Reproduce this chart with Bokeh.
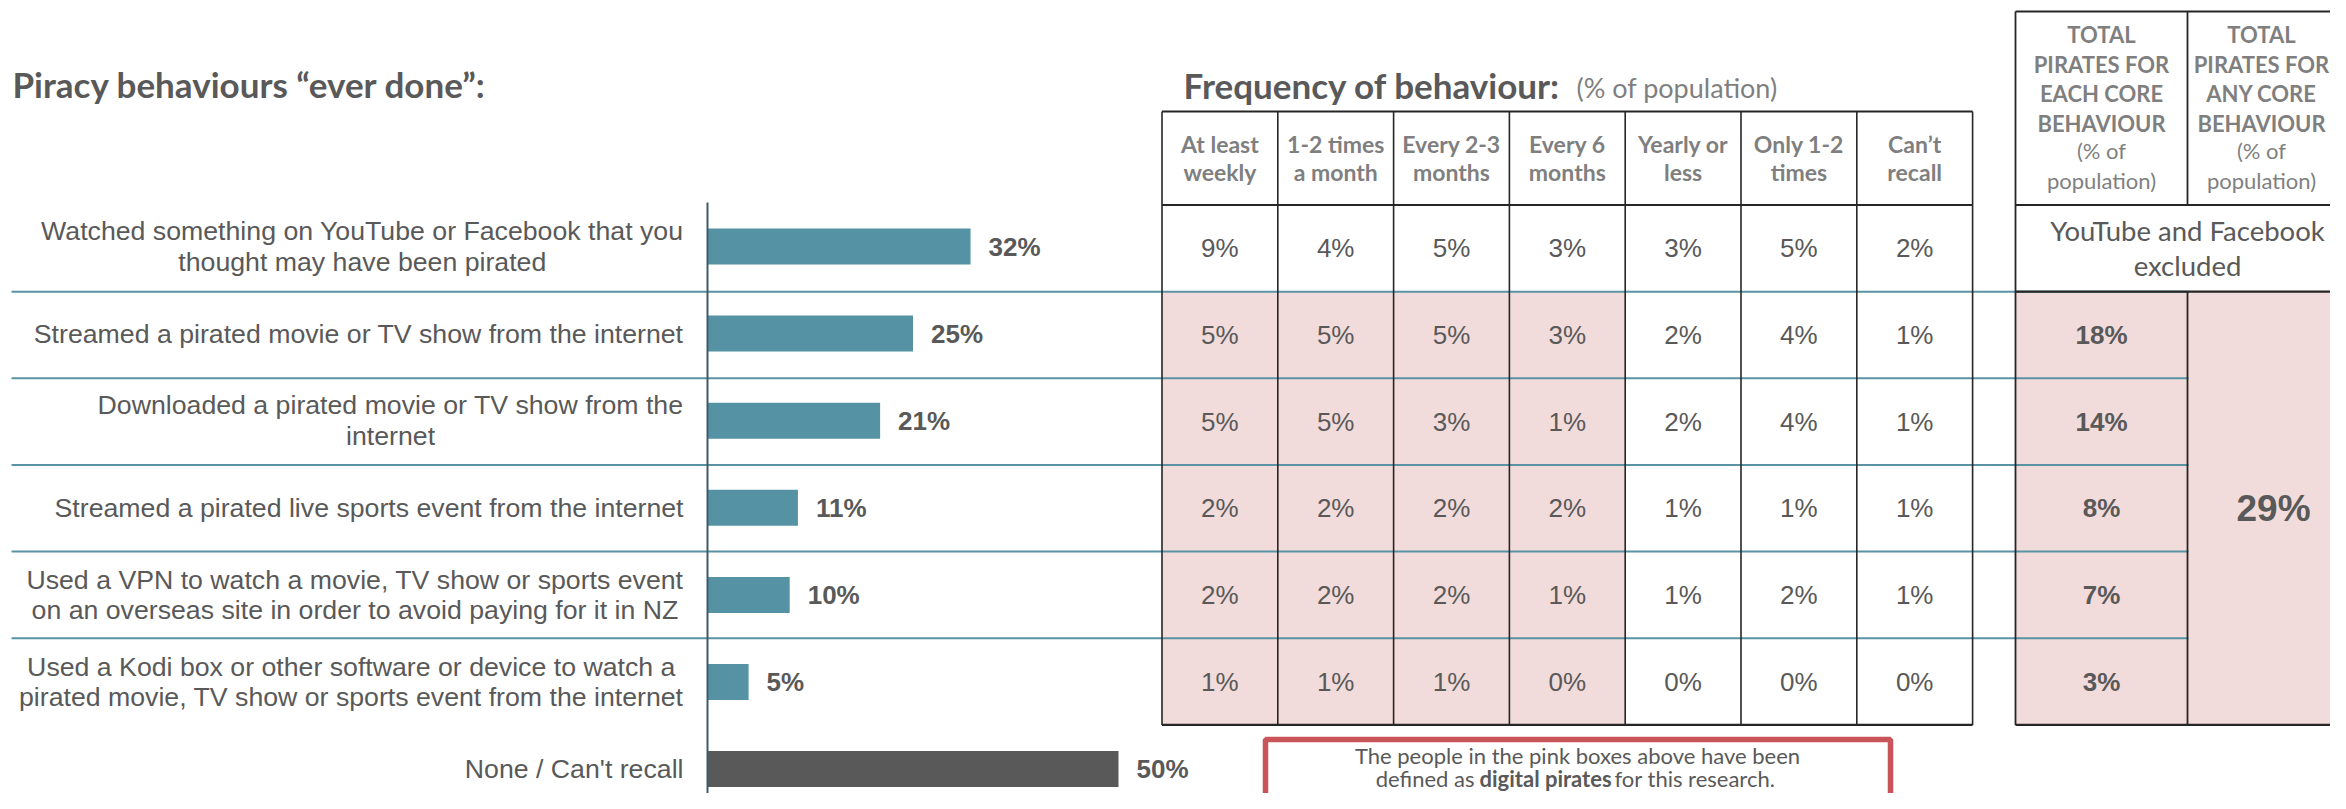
from bokeh.plotting import figure
from bokeh.models import Range1d
from bokeh.core.properties import value
from bokeh.embed import file_html
from bokeh.resources import INLINE

# ---------------- data ----------------
behaviours = [
    "Watched something on YouTube or Facebook that you\nthought may have been pirated",
    "Streamed a pirated movie or TV show from the internet",
    "Downloaded a pirated movie or TV show from the\ninternet",
    "Streamed a pirated live sports event from the internet",
    "Used a VPN to watch a movie, TV show or sports event\non an overseas site in order to avoid paying for it in NZ",
    "Used a Kodi box or other software or device to watch a\npirated movie, TV show or sports event from the internet",
    "None / Can't recall",
]
ever_done = [32, 25, 21, 11, 10, 5, 50]

freq_headers = ["At least\nweekly", "1-2 times\na month", "Every 2-3\nmonths", "Every 6\nmonths",
                "Yearly or\nless", "Only 1-2\ntimes", "Can\u2019t\nrecall"]
freq_weekly = [9, 5, 5, 2, 2, 1]
freq_monthly = [4, 5, 5, 2, 2, 1]
freq_2_3_months = [5, 5, 3, 2, 2, 1]
freq_6_months = [3, 3, 1, 2, 1, 0]
freq_yearly = [3, 2, 2, 1, 1, 0]
freq_once_twice = [5, 4, 4, 1, 2, 0]
freq_cant_recall = [2, 1, 1, 1, 1, 0]
freq_columns = [freq_weekly, freq_monthly, freq_2_3_months, freq_6_months,
                freq_yearly, freq_once_twice, freq_cant_recall]
pirate_freq_cols = 4          # first four frequency columns = digital pirates
total_each = [None, 18, 14, 8, 7, 3]
total_any = 29
total_headers = ["TOTAL\nPIRATES FOR\nEACH CORE\nBEHAVIOUR", "TOTAL\nPIRATES FOR\nANY CORE\nBEHAVIOUR"]
excluded_note = "YouTube and Facebook\nexcluded"

# ---------------- layout / style ----------------
W, H = 2330, 793
AXIS_X = 707
PX_PER_PCT = 8.22
LABEL_RIGHT = 683
BAR_Y0, BAR_PITCH, BAR_H = 246, 87.1, 36
ROW_TOP, ROW_H = 204.5, 86.65
FREQ_X0, COL_W, FREQ_TOP = 1161.5, 115.8, 111
TOT_X0, TOT_W, TOT_TOP = 2015, 172, 11
GRAY = "#595959"
LIGHT = "#7f7f7f"
TEAL = "#5593a4"
SEP = "#5a93a3"
PINK = "#f2dcdb"
LINE = "#262626"
ARIAL = value("Liberation Sans")
CAL = value("Lato")

p = figure(width=W, height=H, output_backend="svg", toolbar_location=None,
           x_range=Range1d(0, W), y_range=Range1d(H, 0),
           min_border=0, outline_line_color=None)
p.axis.visible = False
p.grid.visible = False
p.extra_x_ranges = {"pct": Range1d(-AXIS_X / PX_PER_PCT, (W - AXIS_X) / PX_PER_PCT)}

n_rows = len(total_each)
bounds = [ROW_TOP + ROW_H * k for k in range(n_rows + 1)]
row_mid = [(bounds[k] + bounds[k + 1]) / 2 for k in range(n_rows)]
bar_y = [BAR_Y0 + BAR_PITCH * i for i in range(len(ever_done))]

# ---------------- pink fills ----------------
pl, pr, pt, pb = [], [], [], []
for j in range(pirate_freq_cols):
    for i in range(1, n_rows):
        pl.append(FREQ_X0 + COL_W * j); pr.append(FREQ_X0 + COL_W * (j + 1))
        pt.append(bounds[i]); pb.append(bounds[i + 1])
pl += [TOT_X0, TOT_X0 + TOT_W]; pr += [TOT_X0 + TOT_W, TOT_X0 + 2 * TOT_W]
pt += [bounds[1], bounds[1]]; pb += [bounds[-1], bounds[-1]]
p.quad(left=pl, right=pr, top=pt, bottom=pb, fill_color=PINK, line_color=None)

# ---------------- row separators ----------------
seps = bounds[1:-1]
p.segment(x0=[11] * len(seps), x1=[TOT_X0 + TOT_W + 1] * len(seps), y0=seps, y1=seps,
          line_color=SEP, line_width=2)

# ---------------- frequency table grid ----------------
vx = [FREQ_X0 + COL_W * j for j in range(len(freq_columns) + 1)]
p.segment(x0=vx, x1=vx, y0=[FREQ_TOP] * len(vx), y1=[bounds[-1]] * len(vx),
          line_color=LINE, line_width=1.6)
hy = [FREQ_TOP, bounds[0], bounds[-1]]
p.segment(x0=[FREQ_X0] * 3, x1=[vx[-1]] * 3, y0=hy, y1=hy, line_color=LINE, line_width=2.2)

# ---------------- total table grid ----------------
tx1 = TOT_X0 + 2 * TOT_W
p.segment(x0=[TOT_X0, TOT_X0 + TOT_W, TOT_X0 + TOT_W], x1=[TOT_X0, TOT_X0 + TOT_W, TOT_X0 + TOT_W],
          y0=[TOT_TOP, TOT_TOP, bounds[1]], y1=[bounds[-1], bounds[0], bounds[-1]],
          line_color=LINE, line_width=1.8)
thy = [TOT_TOP, bounds[0], bounds[1], bounds[-1]]
p.segment(x0=[TOT_X0] * 4, x1=[tx1] * 4, y0=thy, y1=thy, line_color=LINE, line_width=2.2)

# ---------------- bar chart ----------------
colors = [TEAL] * (len(ever_done) - 1) + [GRAY]
p.hbar(y=bar_y, left=0, right=ever_done, height=BAR_H, fill_color=colors,
       line_color=None, x_range_name="pct")
p.segment(x0=[0], x1=[0], y0=[202], y1=[H + 10], line_color="#3e5c68",
          line_width=2, x_range_name="pct")
p.text(x=ever_done, y=bar_y, text=[f"{v}%" for v in ever_done], x_range_name="pct",
       x_offset=18, text_font=ARIAL, text_font_size="26px", text_font_style="bold",
       text_color=GRAY, text_align="left", text_baseline="middle")
p.text(x=[LABEL_RIGHT] * len(behaviours), y=bar_y, text=behaviours, anchor="center_right",
       text_align="center", text_baseline="middle", text_font=ARIAL,
       text_font_size="26.7px", text_color=GRAY, text_line_height=1.02)

# ---------------- titles ----------------
p.text(x=[12], y=[83], text=["Piracy behaviours \u201cever done\u201d:"], text_font=CAL,
       text_font_size="35px", text_font_style="bold", text_color=GRAY, text_baseline="middle")
p.text(x=[1183], y=[84], text=["Frequency of behaviour:"], text_font=CAL,
       text_font_size="35px", text_font_style="bold", text_color=GRAY, text_baseline="middle")
p.text(x=[1576], y=[87], text=["(% of population)"], text_font=CAL,
       text_font_size="27px", text_color=LIGHT, text_baseline="middle")

# ---------------- frequency table text ----------------
hx = [FREQ_X0 + COL_W * (j + 0.5) for j in range(len(freq_columns))]
p.text(x=hx, y=[(FREQ_TOP + bounds[0]) / 2] * len(hx), text=freq_headers, anchor="center",
       text_align="center", text_baseline="middle", text_font=CAL, text_font_size="23px",
       text_font_style="bold", text_color=LIGHT, text_line_height=1.01)
cx, cy, ct = [], [], []
for j, col in enumerate(freq_columns):
    for i, v in enumerate(col):
        cx.append(hx[j]); cy.append(row_mid[i]); ct.append(f"{v}%")
p.text(x=cx, y=cy, text=ct, text_align="center", text_baseline="middle", text_font=ARIAL,
       text_font_size="26px", text_color=GRAY)

# ---------------- total table text ----------------
c1 = TOT_X0 + TOT_W / 2
c2 = TOT_X0 + TOT_W * 1.5
hc = [c1, min(c2, W - 69)]   # keep the header of the page-edge column inside the picture
p.text(x=hc, y=[78.5, 78.5], text=total_headers,
       anchor="center", text_align="center", text_baseline="middle", text_font=CAL,
       text_font_size="22px", text_font_style="bold", text_color=LIGHT, text_line_height=1.1)
p.text(x=hc, y=[165, 165], text=["(% of\npopulation)", "(% of\npopulation)"],
       anchor="center", text_align="center", text_baseline="middle", text_font=CAL,
       text_font_size="22px", text_color=LIGHT, text_line_height=1.1)
p.text(x=[TOT_X0 + TOT_W], y=[row_mid[0]], text=[excluded_note], anchor="center",
       text_align="center", text_baseline="middle", text_font=CAL, text_font_size="27.5px",
       text_color=GRAY, text_line_height=1.06)
ty = [row_mid[i] for i, v in enumerate(total_each) if v is not None]
tt = [f"{v}%" for v in total_each if v is not None]
p.text(x=[c1] * len(ty), y=ty, text=tt, text_align="center", text_baseline="middle",
       text_font=ARIAL, text_font_size="26px", text_font_style="bold", text_color=GRAY)
p.text(x=[c2], y=[(bounds[1] + bounds[-1]) / 2], text=[f"{total_any}%"], text_align="center",
       text_baseline="middle", text_font=ARIAL, text_font_size="37px", text_font_style="bold",
       text_color=GRAY)

# ---------------- note box ----------------
p.quad(left=[1265], right=[1890], top=[739], bottom=[840], fill_color="white",
       line_color="#c9555b", line_width=5.5)
p.text(x=[1577], y=[755], text=["The people in the pink boxes above have been"], text_align="center",
       text_baseline="middle", text_font=CAL, text_font_size="22px", text_color=GRAY)
p.text(x=[1474], y=[778], text=["defined as"], text_align="right", text_baseline="middle",
       text_font=CAL, text_font_size="22px", text_color=GRAY)
p.text(x=[1479], y=[778], text=["digital pirates"], text_align="left", text_baseline="middle",
       text_font=CAL, text_font_size="22px", text_font_style="bold", text_color=GRAY)
p.text(x=[1614], y=[778], text=["for this research."], text_align="left", text_baseline="middle",
       text_font=CAL, text_font_size="22px", text_color=GRAY)

open("out.html", "w").write(file_html(p, INLINE))
